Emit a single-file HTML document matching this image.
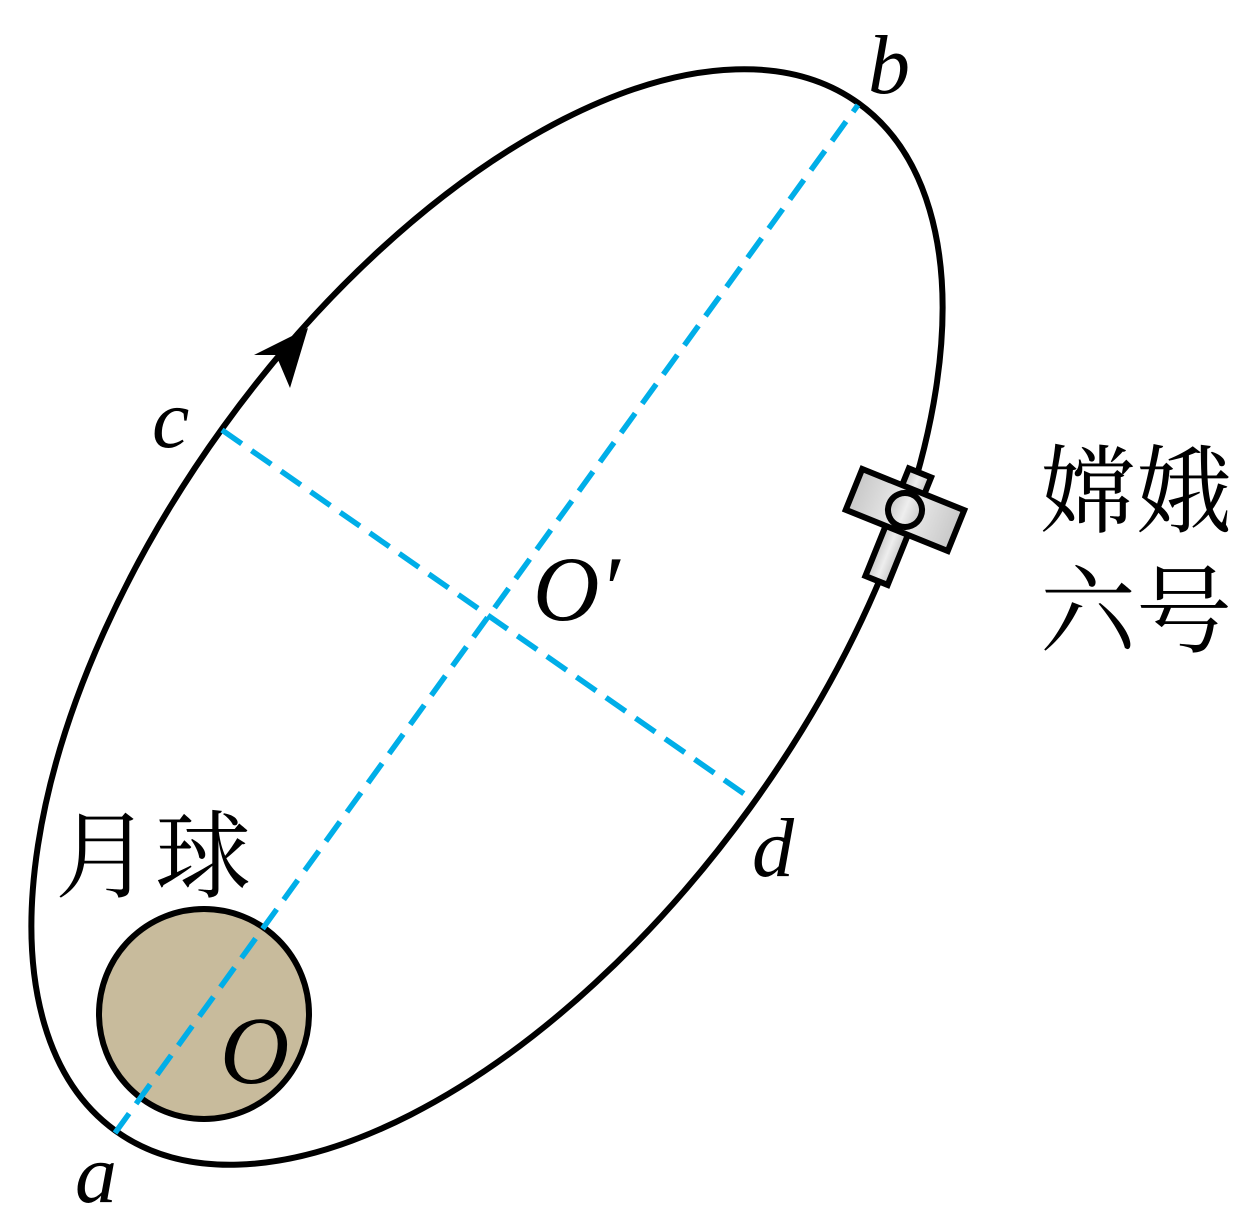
<!DOCTYPE html>
<html><head><meta charset="utf-8"><style>html,body{margin:0;background:#fff;overflow:hidden;width:1260px;height:1230px}svg{display:block}</style></head><body>
<svg width="1260" height="1230" viewBox="0 0 1260 1230" xmlns="http://www.w3.org/2000/svg">
<defs><linearGradient id="g" x1="0" x2="1"><stop offset="0" stop-color="#c8c8c8"/><stop offset="0.5" stop-color="#eee"/><stop offset="1" stop-color="#c8c8c8"/></linearGradient></defs>
<ellipse cx="487" cy="617" rx="634" ry="325" transform="rotate(-54.1 487 617)" fill="none" stroke="#000" stroke-width="6"/>
<circle cx="204" cy="1014" r="105" fill="#c8bb9c" stroke="#000" stroke-width="6"/>
<g stroke="#00aee8" stroke-width="5.5" stroke-dasharray="24,12" fill="none">
<line x1="115" y1="1133" x2="858" y2="105"/>
<line x1="222" y1="430" x2="753" y2="800"/>
</g>
<path d="M308,328 L254,355 L276,355 L290,388 Z" fill="#000"/>
<g transform="translate(905,510) rotate(22)" stroke="#000" stroke-width="6" fill="url(#g)">
<rect x="-12" y="-40" width="24" height="22"/>
<rect x="-12" y="0" width="24" height="76"/>
<rect x="-55" y="-22" width="110" height="44"/>
<circle cx="0" cy="0" r="17"/>
</g>
<g font-family="Liberation Serif, serif" font-style="italic" font-size="84" fill="#000">
<text x="868" y="93">b</text>
<text x="152" y="447">c</text>
<text x="533" y="620" font-size="92">O′</text>
<text x="752" y="876">d</text>
<text x="220" y="1083" font-size="96">O</text>
<text x="75" y="1202">a</text>
</g>
<g font-family="Liberation Serif, 'Noto Serif CJK SC', serif" font-size="96" fill="#000">
<text x="55" y="890" letter-spacing="4">月球</text>
<text x="1040" y="525">嫦娥</text>
<text x="1040" y="645">六号</text>
</g>
</svg>
</body></html>
